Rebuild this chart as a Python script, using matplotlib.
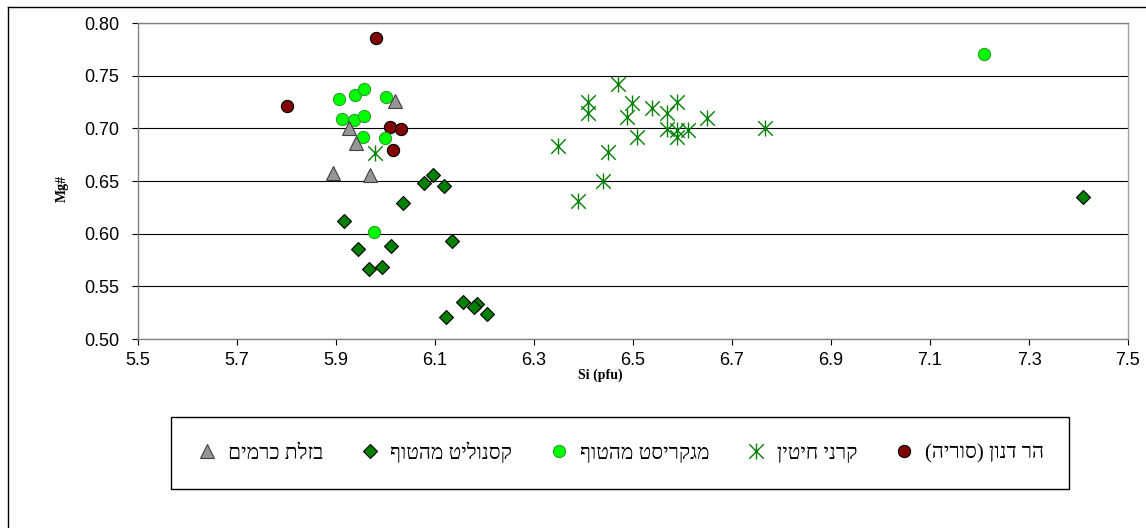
import matplotlib
matplotlib.use("Agg")
import matplotlib.pyplot as plt
from matplotlib.path import Path
from matplotlib.lines import Line2D

# ---------------- data ----------------
har_danun_si = [5.80, 5.981, 6.009, 6.031, 6.015]
har_danun_mg = [0.721, 0.786, 0.701, 0.699, 0.679]

karnei_hittin_si = [6.470, 6.409, 6.409, 6.498, 6.488, 6.538, 6.589, 6.569, 6.569, 6.589,
                    6.611, 6.589, 6.649, 6.767, 6.508, 6.348, 6.449, 6.439, 6.389, 5.979]
karnei_hittin_mg = [0.742, 0.725, 0.715, 0.724, 0.711, 0.719, 0.725, 0.715, 0.699, 0.698,
                    0.698, 0.692, 0.710, 0.700, 0.692, 0.683, 0.678, 0.650, 0.631, 0.677]

megacryst_si = [5.906, 5.938, 5.957, 6.001, 5.912, 5.936, 5.957, 5.955, 5.999, 5.977, 7.209]
megacryst_mg = [0.728, 0.732, 0.737, 0.730, 0.709, 0.708, 0.712, 0.692, 0.691, 0.602, 0.771]

xenolith_si = [6.096, 6.078, 6.118, 6.035, 5.916, 5.944, 6.011, 5.967, 5.993, 6.134,
               6.122, 6.157, 6.185, 6.179, 6.205, 7.409]
xenolith_mg = [0.656, 0.648, 0.645, 0.629, 0.612, 0.585, 0.588, 0.566, 0.568, 0.593,
               0.521, 0.535, 0.533, 0.530, 0.524, 0.635]

basalt_si = [6.019, 5.926, 5.940, 5.894, 5.969]
basalt_mg = [0.726, 0.700, 0.686, 0.658, 0.656]

series_names = ["הר דנון (סוריה)", "קרני חיטין", "מגקריסט מהטוף", "קסנוליט מהטוף", "בזלת כרמים"]
x_ticks = [5.5, 5.7, 5.9, 6.1, 6.3, 6.5, 6.7, 6.9, 7.1, 7.3, 7.5]
y_ticks = [0.50, 0.55, 0.60, 0.65, 0.70, 0.75, 0.80]
x_title = "Si (pfu)"
y_title = "Mg#"


def visual(s):
    """Logical-order Hebrew -> left-to-right visual order for matplotlib."""
    mirror = {"(": ")", ")": "("}
    return "".join(mirror.get(c, c) for c in reversed(s))


plt.rcParams["font.family"] = ["Liberation Sans", "DejaVu Sans"]

fig = plt.figure(figsize=(11.46, 5.28), dpi=100)
W, H = 1146, 528
ax = fig.add_axes([138 / W, 1 - 339 / H, (1128 - 138) / W, (339 - 23) / H])

star_path = Path([(-1, -1), (1, 1), (-1, 1), (1, -1), (0, -1.1), (0, 1.1)],
                 [Path.MOVETO, Path.LINETO, Path.MOVETO, Path.LINETO, Path.MOVETO, Path.LINETO])

styles = [
    dict(marker="o", ms=8.8, mfc="#800000", mec="#000000", mew=0.8),
    dict(marker=star_path, ms=11.5, mfc="none", mec="#008000", mew=1.0),
    dict(marker="o", ms=8.8, mfc="#00FF00", mec="#2E9E2E", mew=0.8),
    dict(marker="D", ms=6.8, mfc="#008000", mec="#000000", mew=0.8),
    dict(marker="^", ms=9.5, mfc="#969696", mec="#404040", mew=0.8),
]
data = [(har_danun_si, har_danun_mg), (karnei_hittin_si, karnei_hittin_mg),
        (megacryst_si, megacryst_mg), (xenolith_si, xenolith_mg), (basalt_si, basalt_mg)]

handles = []
for i, ((xs, ys), st) in enumerate(zip(data, styles)):
    h, = ax.plot(xs, ys, linestyle="none", zorder=3 + i, clip_on=False, **st)
    handles.append(h)

ax.set_xlim(5.5, 7.5)
ax.set_ylim(0.50, 0.80)
ax.set_xticks(x_ticks)
ax.set_yticks(y_ticks)
ax.set_xticklabels([f"{v:.1f}" for v in x_ticks])
ax.set_yticklabels([f"{v:.2f}" for v in y_ticks])
ax.tick_params(axis="both", labelsize=13, color="#000000", length=4.5, width=0.8,
               direction="out")
ax.tick_params(axis="y", pad=9)
ax.tick_params(axis="x", pad=5)
ax.yaxis.grid(True, color="#000000", linewidth=0.8)
ax.set_axisbelow(True)
for side, sp in ax.spines.items():
    sp.set_linewidth(1.0)
    sp.set_color("#808080")
ax.spines["right"].set_color("#A0A0A0")

fig.text(62 / W, 1 - 188 / H, y_title, rotation=90, ha="center", va="center",
         fontsize=10, fontweight="bold", family=["Liberation Serif", "DejaVu Serif"])
fig.text(600 / W, 1 - 375 / H, x_title, ha="center", va="center",
         fontsize=10, fontweight="bold", family=["Liberation Serif", "DejaVu Serif"])

leg = fig.legend(handles[::-1], [visual(s) for s in series_names[::-1]],
                 loc="center", ncol=5, mode="expand",
                 bbox_to_anchor=(161 / W, 1 - 487 / H, (1079 - 161) / W, (487 - 419) / H),
                 frameon=True, fancybox=False, edgecolor="#000000", framealpha=1,
                 borderpad=1.2, handlelength=1.0, handletextpad=0.5,
                 prop={"family": ["Liberation Serif", "DejaVu Serif"], "size": 15})
leg.get_frame().set_linewidth(1.0)

# outer chart-area border (left and top edges visible)
fig.add_artist(Line2D([8 / W, 8 / W], [0, 1 - 7 / H], color="#000000", lw=1.0,
                      transform=fig.transFigure))
fig.add_artist(Line2D([8 / W, 1], [1 - 7 / H, 1 - 7 / H], color="#000000", lw=1.0,
                      transform=fig.transFigure))

fig.savefig("out.png", dpi=100)
